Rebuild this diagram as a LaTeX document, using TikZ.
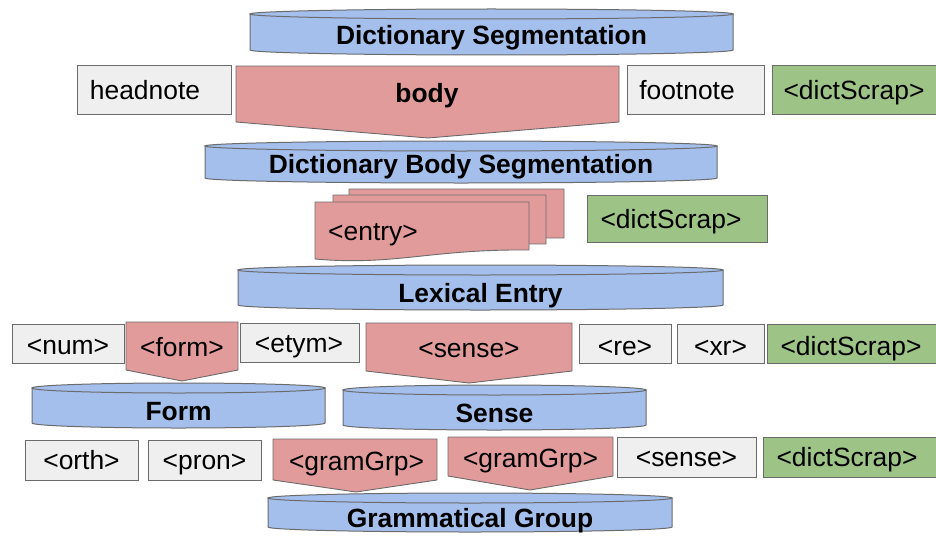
\documentclass[tikz,border=0pt]{standalone}
\usepackage{fontspec}
\setmainfont{Liberation Sans}
\definecolor{cylblue}{HTML}{A4BFEC}
\definecolor{arrpink}{HTML}{E29B9B}
\definecolor{boxgray}{HTML}{EFEFEF}
\definecolor{scrapgreen}{HTML}{9DC486}
\definecolor{edgecol}{HTML}{6B6B6B}
\tikzset{
  lbl/.style={anchor=base, inner sep=0pt, font=\fontsize{26.4}{30}\selectfont},
  blbl/.style={anchor=base, inner sep=0pt, font=\fontsize{26.4}{30}\selectfont\bfseries},
  cylshape/.style={fill=cylblue, draw=edgecol, line width=1pt},
  arrshape/.style={fill=arrpink, draw=edgecol, line width=0.9pt, line join=round},
  grayshape/.style={fill=boxgray, draw=edgecol, line width=0.9pt},
  greenshape/.style={fill=scrapgreen, draw=edgecol, line width=0.9pt},
}
% cylinder: L R yt yb rx
\newcommand\mycyl[5]{%
  \draw[cylshape] (#1,#3) -- (#1,#4) arc[start angle=180, end angle=360, x radius=#5pt, y radius=5pt] -- (#2,#3) -- cycle;
  \draw[cylshape] ({(#1+#2)/2},#3) ellipse[x radius=#5pt, y radius=5pt];
}
% down arrow pentagon: L R T S P tipx
\newcommand\myarr[6]{%
  \draw[arrshape] (#1,#3) -- (#2,#3) -- (#2,#4) -- (#6,#5) -- (#1,#4) -- cycle;
}
\begin{document}
\begin{tikzpicture}[x=1pt, y=-1pt]
\useasboundingbox (0,0) rectangle (936,535);

% ---- cylinders
\mycyl{250}{733}{14}{50}{241.5}
\node[blbl] (dictseg) at (491.5,45) {Dictionary Segmentation};

\mycyl{205}{717}{146}{178}{256}
\node[blbl] (bodyseg) at (461,173) {Dictionary Body Segmentation};

\mycyl{238}{723}{270}{305}{242.5}
\node[blbl] (lexentry) at (480.5,302) {Lexical Entry};

\mycyl{32}{325}{388}{423}{146.5}
\node[blbl] (formcyl) at (178.5,420) {Form};

\mycyl{343}{646}{390}{425}{151.5}
\node[blbl] (sensecyl) at (494.5,422) {Sense};

\mycyl{268}{672}{498}{527}{202}
\node[blbl] (gramcyl) at (470,527) {Grammatical Group};

% ---- row 1
\draw[grayshape] (77,65) rectangle (231,114);
\node[lbl] (headnote) at (145,99) {headnote};
\myarr{236}{619}{66}{122}{138}{428}
\node[blbl] (body) at (427,102) {body};
\draw[grayshape] (627,65) rectangle (764,114);
\node[lbl] (footnote) at (687,99) {footnote};
\draw[greenshape] (772,65) rectangle (940,114);
\node[lbl] (scrapA) at (854,99) {<dictScrap>};

% ---- entry stack
\draw[arrshape] (349,189) -- (564,189) -- (564,238) .. controls (470,237) and (430,252) .. (349,247) -- cycle;
\draw[arrshape] (333,195) -- (546,195) -- (546,244) .. controls (450,243) and (410,258) .. (333,253) -- cycle;
\draw[arrshape] (315,202) -- (529,202) -- (529,250) .. controls (430,249) and (395,266) .. (315,259) -- cycle;
\node[lbl] (entry) at (373,240) {<entry>};
\draw[greenshape] (587,195) rectangle (767,242);
\node[lbl] (scrapB) at (671,228) {<dictScrap>};

% ---- row 4
\draw[grayshape] (12,324) rectangle (124,363);
\node[lbl] (num) at (68,354) {<num>};
\myarr{126}{238}{322}{370}{381}{182}
\node[lbl] (form) at (182,356) {<form>};
\draw[grayshape] (240,323) rectangle (359,362);
\node[lbl] (etym) at (299,352) {<etym>};
\myarr{366}{572}{323}{371}{383}{469}
\node[lbl] (senseA) at (469,357) {<sense>};
\draw[grayshape] (579,324) rectangle (671,363);
\node[lbl] (re) at (625,355) {<re>};
\draw[grayshape] (677,324) rectangle (764,363);
\node[lbl] (xr) at (720.5,355) {<xr>};
\draw[greenshape] (767,324) rectangle (940,363);
\node[lbl] (scrapC) at (851,355) {<dictScrap>};

% ---- row 5
\draw[grayshape] (25,440) rectangle (138,480);
\node[lbl] (orth) at (81.5,469) {<orth>};
\draw[grayshape] (148,440) rectangle (261,480);
\node[lbl] (pron) at (204.5,469) {<pron>};
\myarr{273}{437}{439}{480}{492}{356}
\node[lbl] (gramA) at (356.5,470) {<gramGrp>};
\myarr{448}{613}{437}{476}{490}{530}
\node[lbl] (gramB) at (530.5,467) {<gramGrp>};
\draw[grayshape] (617,437) rectangle (756,477);
\node[lbl] (senseB) at (686.5,466) {<sense>};
\draw[greenshape] (763,437) rectangle (940,477);
\node[lbl] (scrapD) at (847,466) {<dictScrap>};
\end{tikzpicture}
\end{document}
